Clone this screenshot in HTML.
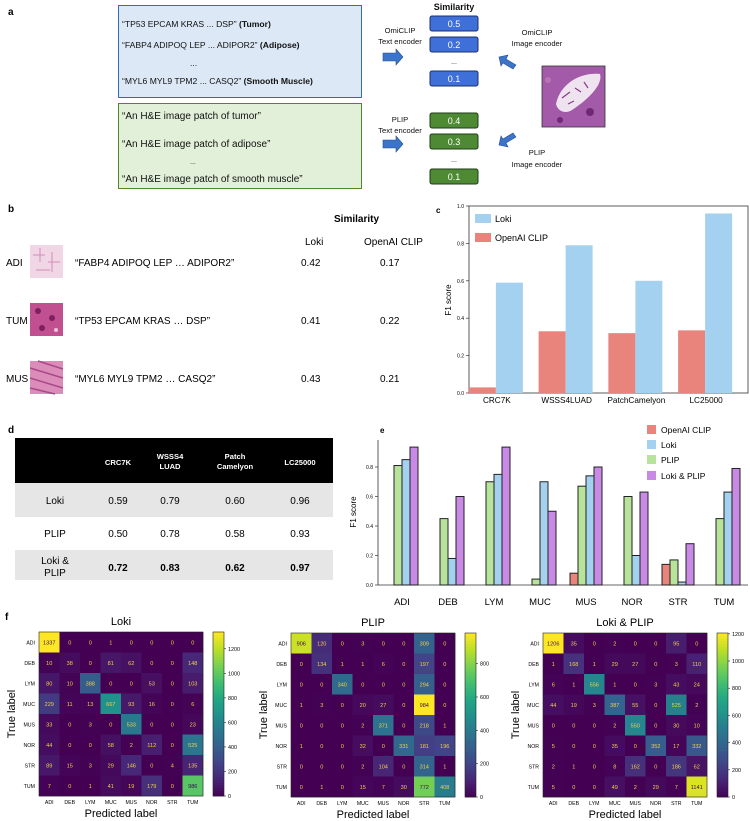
<!DOCTYPE html>
<html><head><meta charset="utf-8"><style>
body{margin:0;background:#fff}
svg{display:block;font-family:"Liberation Sans",Arial,sans-serif}
</style></head><body>
<svg id="fig" width="750" height="821" viewBox="0 0 750 821">
<!-- Panel a -->
<g>
<text x="8" y="15" font-size="10" font-weight="bold">a</text>
<rect x="118.5" y="5.5" width="243" height="92" fill="#dce8f6" stroke="#2f6db5" stroke-width="1"/>
<g font-size="8.6" fill="#111">
<text x="122" y="27">“TP53 EPCAM KRAS ... DSP” <tspan font-weight="bold">(Tumor)</tspan></text>
<text x="122" y="48">“FABP4 ADIPOQ LEP ... ADIPOR2” <tspan font-weight="bold">(Adipose)</tspan></text>
<text x="190" y="66">...</text>
<text x="122" y="84">“MYL6 MYL9 TPM2 ... CASQ2” <tspan font-weight="bold">(Smooth Muscle)</tspan></text>
</g>
<rect x="118.5" y="103.5" width="243" height="85" fill="#e3f0d9" stroke="#4a8a2a" stroke-width="1"/>
<g font-size="10" fill="#111">
<text x="122" y="119">“An H&amp;E image patch of tumor”</text>
<text x="122" y="147">“An H&amp;E image patch of adipose”</text>
<text x="190" y="164" font-size="7">...</text>
<text x="122" y="182">“An H&amp;E image patch of smooth muscle”</text>
</g>
<g font-size="7.6" text-anchor="middle" fill="#111">
<text x="400" y="33">OmiCLIP</text>
<text x="400" y="44">Text encoder</text>
<text x="400" y="122">PLIP</text>
<text x="400" y="133">Text encoder</text>
<text x="537" y="35">OmiCLIP</text>
<text x="537" y="46">Image encoder</text>
<text x="537" y="155">PLIP</text>
<text x="537" y="167">Image encoder</text>
<text x="454" y="10" font-size="9" font-weight="bold">Similarity</text>
</g>
<g fill="#3b74c9" stroke="#24508f" stroke-width="0.6">
<polygon points="383,53 396,53 396,49 403,57 396,65 396,61 383,61"/>
<polygon points="383,140 396,140 396,136 403,144 396,152 396,148 383,148"/>
<polygon points="516,65 506,59 508,55 499,57 501,66 503,63 513,69"/>
<polygon points="516,137 506,143 508,147 499,145 501,136 503,139 513,133"/>
</g>
<g font-size="9" fill="#fff" text-anchor="middle">
<rect x="430" y="16" width="48" height="15" rx="2" fill="#3f6fd8" stroke="#1c2f6a"/><text x="454" y="27">0.5</text>
<rect x="430" y="37" width="48" height="15" rx="2" fill="#3f6fd8" stroke="#1c2f6a"/><text x="454" y="48">0.2</text>
<text x="454" y="64" fill="#111" font-size="7">...</text>
<rect x="430" y="71" width="48" height="15" rx="2" fill="#3f6fd8" stroke="#1c2f6a"/><text x="454" y="82">0.1</text>
<rect x="430" y="113" width="48" height="15" rx="2" fill="#4d8a33" stroke="#1f3d14"/><text x="454" y="124">0.4</text>
<rect x="430" y="134" width="48" height="15" rx="2" fill="#4d8a33" stroke="#1f3d14"/><text x="454" y="145">0.3</text>
<text x="454" y="162" fill="#111" font-size="7">...</text>
<rect x="430" y="169" width="48" height="15" rx="2" fill="#4d8a33" stroke="#1f3d14"/><text x="454" y="180">0.1</text>
</g>
<g>
<rect x="542" y="66" width="63" height="61" fill="#a35aa8" stroke="#333" stroke-width="0.8"/>
<path d="M556,104 C560,84 580,72 600,74 C603,84 590,98 572,110 C566,114 558,112 556,104Z" fill="#efe3f0"/>
<path d="M562,98 l8,-6 M575,88 l6,4 M584,82 l4,6 M568,104 l6,-3" stroke="#8a3a8a" stroke-width="1.2"/>
<circle cx="590" cy="112" r="4" fill="#6d2a72"/><circle cx="560" cy="120" r="3" fill="#6d2a72"/><circle cx="548" cy="80" r="3" fill="#b873b8"/>
</g>
</g>

<!-- Panel b -->
<g>
<text x="8" y="212" font-size="10" font-weight="bold">b</text>
<text x="334" y="222" font-size="10" font-weight="bold">Similarity</text>
<text x="305" y="245" font-size="10">Loki</text>
<text x="364" y="245" font-size="10">OpenAI CLIP</text>
<g font-size="10">
<text x="6" y="266">ADI</text><text x="6" y="324">TUM</text><text x="6" y="382">MUS</text>
<text x="75" y="266">“FABP4 ADIPOQ LEP … ADIPOR2”</text>
<text x="75" y="324">“TP53 EPCAM KRAS … DSP”</text>
<text x="75" y="382">“MYL6 MYL9 TPM2 … CASQ2”</text>
<text x="301" y="266">0.42</text><text x="380" y="266">0.17</text>
<text x="301" y="324">0.41</text><text x="380" y="324">0.22</text>
<text x="301" y="382">0.43</text><text x="380" y="382">0.21</text>
</g>
<g><rect x="30" y="245" width="33" height="33" fill="#f1d6e6"/><path d="M33,255 h12 M40,248 v14 M48,262 h12 M52,252 v20 M36,270 h14" stroke="#cf8fb8" stroke-width="1"/></g>
<g><rect x="30" y="303" width="33" height="33" fill="#c0508f"/><circle cx="38" cy="311" r="3" fill="#7d2060"/><circle cx="52" cy="318" r="3" fill="#7d2060"/><circle cx="42" cy="328" r="3" fill="#7d2060"/><circle cx="56" cy="330" r="2" fill="#f0c0dc"/></g>
<g><rect x="30" y="361" width="33" height="33" fill="#db8cb9"/><path d="M30,368 L63,378 M30,378 L63,388 M30,388 L55,394 M38,361 L63,369" stroke="#a84a88" stroke-width="1.5"/></g>
</g>

<!-- Panel c -->
<g id="panelC">
<text x="436" y="213" font-size="8" font-weight="bold">c</text>
</g>
<!-- Panel d -->
<g>
<text x="8" y="433" font-size="10" font-weight="bold">d</text>
<rect x="15" y="438" width="318" height="45" fill="#000"/>
<rect x="15" y="483" width="318" height="34" fill="#e6e6e6"/>
<rect x="15" y="550" width="318" height="30" fill="#e6e6e6"/>
<g fill="#fff" font-size="7.6" font-weight="bold" text-anchor="middle">
<text x="118" y="465">CRC7K</text>
<text x="170" y="459">WSSS4</text><text x="170" y="469">LUAD</text>
<text x="235" y="459">Patch</text><text x="235" y="469">Camelyon</text>
<text x="300" y="465">LC25000</text>
</g>
<g font-size="10" text-anchor="middle">
<text x="55" y="504">Loki</text><text x="118" y="504">0.59</text><text x="170" y="504">0.79</text><text x="235" y="504">0.60</text><text x="300" y="504">0.96</text>
<text x="55" y="537">PLIP</text><text x="118" y="537">0.50</text><text x="170" y="537">0.78</text><text x="235" y="537">0.58</text><text x="300" y="537">0.93</text>
<text x="55" y="564">Loki &amp;</text><text x="55" y="576">PLIP</text>
<g font-weight="bold"><text x="118" y="571">0.72</text><text x="170" y="571">0.83</text><text x="235" y="571">0.62</text><text x="300" y="571">0.97</text></g>
</g>
</g>
<g id="panelE">
<text x="380" y="433" font-size="8" font-weight="bold">e</text>
</g>
<g id="panelF">
<text x="5" y="620" font-size="10" font-weight="bold">f</text>
</g>
</svg>
<script>
// ---- Panel c data ----
const cCategories = ["CRC7K","WSSS4LUAD","PatchCamelyon","LC25000"];
const cOpenAI = [0.03,0.33,0.32,0.335];
const cLoki = [0.59,0.79,0.60,0.96];
const cTicks = ["0.0","0.2","0.4","0.6","0.8","1.0"];
// ---- Panel e data ----
const eCategories = ["ADI","DEB","LYM","MUC","MUS","NOR","STR","TUM"];
const eOpenAI = [0,0,0,0,0.08,0,0.14,0];
const eLoki = [0.85,0.18,0.75,0.70,0.74,0.20,0.02,0.63];
const ePLIP = [0.81,0.45,0.70,0.04,0.67,0.60,0.17,0.45];
const eLokiPLIP = [0.935,0.60,0.935,0.50,0.80,0.63,0.28,0.79];
const eTicks = ["0.0","0.2","0.4","0.6","0.8"];
// ---- Panel f data ----
const fLabels = ["ADI","DEB","LYM","MUC","MUS","NOR","STR","TUM"];
const fLoki = [
[1337,0,0,1,0,0,0,0],[10,38,0,81,62,0,0,148],[80,10,388,0,0,53,0,103],[229,11,13,667,93,16,0,6],
[33,0,3,0,533,0,0,23],[44,0,0,58,2,112,0,525],[89,15,3,29,146,0,4,135],[7,0,1,41,19,179,0,986]];
const fPLIP = [
[906,120,0,3,0,0,309,0],[0,134,1,1,6,0,197,0],[0,0,340,0,0,0,294,0],[1,3,0,20,27,0,984,0],
[0,0,0,2,371,0,218,1],[1,0,0,32,0,331,181,196],[0,0,0,2,104,0,314,1],[0,1,0,15,7,30,772,408]];
const fLokiPLIP = [
[1206,35,0,2,0,0,95,0],[1,168,1,29,27,0,3,110],[6,1,556,1,0,3,43,24],[44,19,3,387,55,0,525,2],
[0,0,0,2,550,0,30,10],[5,0,0,35,0,352,17,332],[2,1,0,8,162,0,186,62],[5,0,0,49,2,29,7,1141]];
const fLokiTicks = [0,200,400,600,800,1000,1200];
const fPLIPTicks = [0,200,400,600,800];
const fLokiPLIPTicks = [0,200,400,600,800,1000,1200];

const NS="http://www.w3.org/2000/svg";
function mk(tag,attrs,parent){const e=document.createElementNS(NS,tag);for(const k in attrs)e.setAttribute(k,attrs[k]);if(parent)parent.appendChild(e);return e;}
function txt(parent,x,y,s,size,anchor,extra){const t=mk("text",Object.assign({x:x,y:y,"font-size":size,"text-anchor":anchor||"start"},extra||{}),parent);t.textContent=s;return t;}

// ---- Panel c ----
(function(){
  const g=document.getElementById("panelC");
  const L=469,R=748,T=206,B=393;
  const y=v=>B-v*(B-T);
  const gw=(R-L)/cCategories.length;
  const x=i=>L+gw*(i+0.5)-8;
  mk("rect",{x:L,y:T,width:R-L,height:B-T,fill:"none",stroke:"#333","stroke-width":0.8},g);
  cTicks.forEach(t=>{const v=parseFloat(t);const yy=y(v);
    const l=mk("line",{x1:L-3,x2:L,y1:yy,y2:yy,stroke:"#333","stroke-width":0.7},g);
    
    
    txt(g,L-5,yy+2,t,5,"end");});
  cCategories.forEach((c,i)=>{
    const b1=mk("rect",{x:x(i)-27,y:y(cOpenAI[i]),width:27,height:B-y(cOpenAI[i]),fill:"#e8847c"},g);
    
    
    const b2=mk("rect",{x:x(i),y:y(cLoki[i]),width:27,height:B-y(cLoki[i]),fill:"#a3d1ef"},g);
    
    
    txt(g,x(i)+1,403,c,8.2,"middle");
  });
  const lg1=mk("rect",{x:475,y:214,width:16,height:9,fill:"#a3d1ef"},g);
  
  
  txt(g,495,222,"Loki",9);
  const lg2=mk("rect",{x:475,y:233,width:16,height:9,fill:"#e8847c"},g);
  
  
  txt(g,495,241,"OpenAI CLIP",9);
  txt(g,451,300,"F1 score",8,"middle",{transform:"rotate(-90 451 300)"});
})();

// ---- Panel e ----
(function(){
  const g=document.getElementById("panelE");
  const L=378,R=748,T=440,B=585,S=147.5;
  const y=v=>B-v*S;
  const gw=46;
  const cx=i=>402+gw*i;
  mk("line",{x1:L,x2:L,y1:T,y2:B,stroke:"#333","stroke-width":0.8},g);
  mk("line",{x1:L,x2:R,y1:B,y2:B,stroke:"#333","stroke-width":0.8},g);
  eTicks.forEach(t=>{const v=parseFloat(t);const yy=y(v);
    const l=mk("line",{x1:L-3,x2:L,y1:yy,y2:yy,stroke:"#333","stroke-width":0.7},g);
    
    
    txt(g,L-5,yy+2,t,5,"end");});
  const series=[[eOpenAI,"#e8847c","openai"],[ePLIP,"#b7e49a","plip"],[eLoki,"#a3d1ef","loki"],[eLokiPLIP,"#c98ae6","loki-plip"]];
  eCategories.forEach((c,i)=>{
    series.forEach((s,j)=>{
      const v=s[0][i];
      const r=mk("rect",{x:cx(i)-16+j*8,y:y(v),width:8,height:B-y(v),fill:s[1],stroke:"#222","stroke-width":1},g);
      
      
    });
    txt(g,cx(i),605,c,9.5,"middle");
  });
  const leg=[["OpenAI CLIP","#e8847c",432],["Loki","#a3d1ef",447],["PLIP","#b7e49a",462],["Loki & PLIP","#c98ae6",478]];
  leg.forEach(l=>{
    const r=mk("rect",{x:647,y:l[2]-7,width:9,height:9,fill:l[1]},g);
    
    
    txt(g,661,l[2]+1,l[0],8.5);
  });
  txt(g,356,512,"F1 score",8,"middle",{transform:"rotate(-90 356 512)"});
})();

// ---- Panel f ----
const VIR=["#440154","#482475","#414487","#355f8d","#2a788e","#21918c","#22a884","#44bf70","#7ad151","#bddf26","#fde725"];
function hx(h){return[parseInt(h.substr(1,2),16),parseInt(h.substr(3,2),16),parseInt(h.substr(5,2),16)];}
function vir(t){t=Math.max(0,Math.min(1,t));const p=t*10;const i=Math.min(9,Math.floor(p));const f=p-i;const a=hx(VIR[i]),b=hx(VIR[i+1]);
  return "rgb("+a.map((v,k)=>Math.round(v+(b[k]-v)*f)).join(",")+")";}
function heat(g,mat,ticks,x0,y0,title,key){
  const size=164,cs=size/8;let mx=0;mat.forEach(r=>r.forEach(v=>mx=Math.max(mx,v)));
  txt(g,x0+size/2,y0-7,title,11,"middle");
  mat.forEach((row,i)=>row.forEach((v,j)=>{
    const r=mk("rect",{x:x0+j*cs,y:y0+i*cs,width:cs+0.3,height:cs+0.3,fill:vir(v/mx)},g);
    
    
    txt(g,x0+j*cs+cs/2,y0+i*cs+cs/2+2,String(v),5.6,"middle",{fill:v>mx/2?"#3a0a50":"#f2cf45"});
  }));
  mk("rect",{x:x0,y:y0,width:size,height:size,fill:"none",stroke:"#222","stroke-width":0.6},g);
  fLabels.forEach((l,i)=>{
    txt(g,x0-4,y0+i*cs+cs/2+2,l,5.2,"end");
    txt(g,x0+i*cs+cs/2,y0+size+8,l,5.2,"middle");
  });
  txt(g,x0+size/2,y0+size+21,"Predicted label",11,"middle");
  txt(g,x0-24,y0+size/2,"True label",11,"middle",{transform:"rotate(-90 "+(x0-24)+" "+(y0+size/2)+")"});
  const cbx=x0+size+10,cbw=11;
  for(let k=0;k<60;k++){mk("rect",{x:cbx,y:y0+size-(k+1)*size/60,width:cbw,height:size/60+0.4,fill:vir((k+0.5)/60)},g);}
  const cb=mk("rect",{x:cbx,y:y0,width:cbw,height:size,fill:"none",stroke:"#222","stroke-width":0.6},g);
  
  
  ticks.forEach(t=>{const yy=y0+size-t/mx*size;
    mk("line",{x1:cbx+cbw,x2:cbx+cbw+2,y1:yy,y2:yy,stroke:"#222","stroke-width":0.6},g);
    txt(g,cbx+cbw+4,yy+2,String(t),5.4,"start");});
}
const gf=document.getElementById("panelF");
heat(gf,fLoki,fLokiTicks,39,632,"Loki","f-loki");
heat(gf,fPLIP,fPLIPTicks,291,633,"PLIP","f-plip");
heat(gf,fLokiPLIP,fLokiPLIPTicks,543,633,"Loki & PLIP","f-loki-plip");
</script>
</body></html>
